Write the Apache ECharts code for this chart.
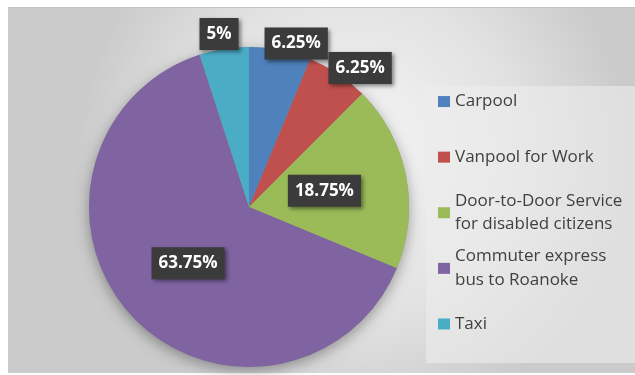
<!DOCTYPE html>
<html>
<head>
<meta charset="utf-8">
<script src="https://cdn.jsdelivr.net/npm/echarts@6/dist/echarts.min.js"></script>
<style>
  html, body { margin: 0; padding: 0; background: #ffffff; }
  #chart { width: 635px; height: 375px; }
</style>
</head>
<body>
<div id="chart"></div>
<script>
// Travel mode shares (percent of respondents)
const categories = [
  'Carpool',
  'Vanpool for Work',
  'Door-to-Door Service\nfor disabled citizens',
  'Commuter express\nbus to Roanoke',
  'Taxi'
];
const shares = [6.25, 6.25, 18.75, 63.75, 5];
const colors = ['#4F81BD', '#C0504D', '#9BBB59', '#8064A2', '#4BACC6'];

// Callout nudges (pixels) from the default inside label spot
const calloutShift = [
  [31, -82],
  [65, -70],
  [-6, 0],
  [0, 0],
  [-17, -91]
];

const LH = 23.7;          // legend line height
const ITEM_H = 3 * LH;     // every legend item occupies three line slots

const chart = echarts.init(document.getElementById('chart'), null, { renderer: 'canvas' });

const pieData = categories.map((name, i) => ({
  name: name,
  value: shares[i],
  itemStyle: { color: colors[i] }
}));

const legendData = categories.map((name) => {
  const multi = name.indexOf('\n') >= 0;
  return {
    name: name,
    textStyle: { padding: multi ? [LH, 0, 0, 0] : [LH, 0, LH, 0] }
  };
});

chart.setOption({
  animation: false,
  graphic: [
    {
      type: 'rect',
      z: -10,
      shape: { x: 8, y: 7, width: 627, height: 366 },
      style: {
        fill: {
          type: 'radial', x: 0.55, y: 0.4, r: 0.75,
          colorStops: [
            { offset: 0, color: '#f6f6f6' },
            { offset: 0.6, color: '#e2e2e2' },
            { offset: 1, color: '#cbcbcb' }
          ]
        }
      }
    },
    {
      type: 'line', z: -9,
      shape: { x1: 8, y1: 7.5, x2: 635, y2: 7.5 },
      style: { stroke: '#c4c4c4', lineWidth: 1 }
    },
    {
      type: 'rect', z: -8,
      shape: { x: 426, y: 86, width: 209, height: 277 },
      style: { fill: 'rgba(236,236,236,0.6)' }
    }
  ],
  legend: {
    orient: 'vertical',
    left: 438,
    top: 66,
    padding: 0,
    itemGap: 55.6 - ITEM_H,
    itemWidth: 12,
    itemHeight: 11,
    icon: 'rect',
    selectedMode: false,
    data: legendData,
    textStyle: {
      fontFamily: 'Open Sans',
      fontSize: 17,
      color: '#404040',
      lineHeight: LH
    }
  },
  series: [
    {
      // soft drop shadow under the whole pie
      type: 'pie',
      silent: true,
      center: [249, 207],
      radius: 160,
      z: 1,
      label: { show: false },
      labelLine: { show: false },
      itemStyle: {
        color: '#8a8a8a',
        shadowBlur: 14,
        shadowOffsetY: 4,
        shadowColor: 'rgba(0,0,0,0.35)'
      },
      data: [{ value: 1, name: '' }]
    },
    {
      type: 'pie',
      center: [249, 207],
      radius: 160,
      startAngle: 90,
      clockwise: true,
      z: 2,
      data: pieData,
      itemStyle: { borderWidth: 0 },
      emphasis: { disabled: true },
      label: {
        show: true,
        position: 'inside',
        formatter: (p) => p.value + '%',
        fontFamily: 'Open Sans',
        fontSize: 17,
        fontWeight: 'bold',
        color: '#ffffff',
        backgroundColor: '#3b3b3b',
        padding: [8, 7, 7, 7],
        shadowBlur: 4,
        shadowOffsetX: 2,
        shadowOffsetY: 2,
        shadowColor: 'rgba(0,0,0,0.45)'
      },
      labelLine: { show: false },
      labelLayout: (params) => {
        const s = calloutShift[params.dataIndex] || [0, 0];
        return { dx: s[0], dy: s[1] };
      }
    }
  ]
});
</script>
</body>
</html>
